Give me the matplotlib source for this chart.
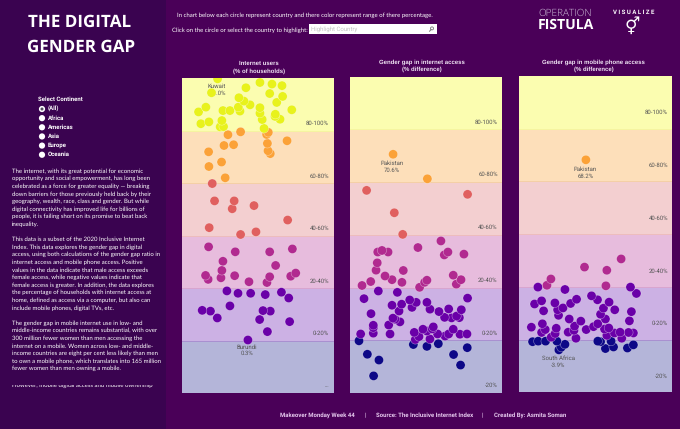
import numpy as np
import matplotlib
matplotlib.use("Agg")
import matplotlib.pyplot as plt
from matplotlib.patches import Rectangle, Circle

# ---------- data: horizontal jitter position (0-100) and percentage ----------
users_x = [23.7,51.5,42.3,59.4,66,57.9,66.4,37.7,41,45,37.3,62.5,51.5,38.4,31.8,27.2,16,11.2,72.4,51.5,61.6,61.4,64.7,53,26.5,18,12.7,25.4,27.6,54.2,19.7,
           57,30.5,38.8,55.9,56.4,69.3,27.9,34.2,56.8,58.3,17.8,26.3,18,28.7,
           20.2,21.7,34.6,33.3,47.6,69.7,18.2,38.8,48.9,
           17.8,35.3,57.9,72.8,27.2,61.8,26.5,15.8,17.5,25.9,34.9,44.3,57.9,56.1,71.7,75,
           29.8,37.1,45.4,55,65.6,70.4,31.8,13.6,19,53.5,58.3,23.5,51.3,71,56.4,43.6]
users_v = [99.8,98.4,96.4,97.8,97.2,94.2,93.1,92.6,91.3,89.9,89,90.8,88.8,87.5,87.7,87.7,89,87.2,88,86.7,86.3,85.5,84.4,84.3,83.9,83.4,82.7,81.5,81.6,80.9,94.5,
           79.4,78.5,79.6,78.6,75.2,76.2,74.4,74.7,72.4,71.3,72,68.1,66.4,62.1,
           59.9,53.3,53.3,50.3,51.5,46,43.1,40.5,41.5,
           35.8,33.9,33.9,35,30.3,28.7,26.8,24.9,23.4,24,24.8,22.5,24.4,22.2,24.6,25.8,
           19,18.1,18.1,17.6,18.5,16.3,13.3,11.6,11.3,11.5,11.3,8.7,8.1,7.3,3.5,0.3]

internet_x = [28.3,50.8,10.9,77.2,29.1,34.6,
              59.7,44.6,18.2,21,25,64.3,61.9,74.8,17.9,17.1,35,23,27.6,13.6,7.9,34.1,50.5,49,45.7,67.8,72.9,69.8,
              18.6,31.1,9.2,77.2,39.2,43.5,33.9,27.6,40.7,50.5,52.5,58.4,64.8,73.1,32.2,13.8,62.1,66.7,71.8,70,28.2,29.5,32.8,25.4,15.3,15.3,15.3,7,26.3,42.2,47.9,54.7,54,50.5,45.3,42.9,52.5,57.5,64.8,67.8,72.2,76.8,62.4,
              5.9,41.6,50.5,58,77,11.4,19,68,72.6,15.5]
internet_v = [70.6,61.3,56.9,55.4,48.4,40.2,
              37.7,35.2,33.5,34.1,33.5,33.5,32.4,32.7,29.4,26.6,26.5,24.4,23,22.3,20.8,22,22.8,22,20.1,24.7,23,21.3,
              18.7,18.2,15.8,16,15.3,14.4,13.7,13.3,12.5,14.4,11.8,10.9,11.9,11.6,11.1,10.1,8.7,8.5,8.6,9.2,8.4,8,7,5.8,5.7,4.8,2.7,2.4,2.4,3,4.2,5.1,4.3,3.5,1.4,0.3,0.5,2.4,2.4,4.2,2.3,2.4,1.6,
              -0.2,-1.6,-2.3,-1.3,-2.8,-5.3,-7.5,-5.4,-9.4,-13.5]

mobile_x = [43.8,
            66.9,42.9,57.5,20.9,18.3,56.9,
            12.4,30.1,73,76.9,47.5,51.4,59,55.3,62.7,73.6,37.7,33.8,28.8,25.3,25.9,23.5,14.8,10.2,16.1,53.4,56.6,72.3,32.9,40.5,36.4,15.3,8.1,17.2,14.8,24.4,23.7,21.1,32.2,36,37.3,44,48.8,51.6,56,58.8,57.5,62.5,66.2,67.3,71.7,74.9,
            8.9,12.6,17.4,24.8,30.1,27.7,26.1,51.6,53.4,60.3,56.6,61.9,71,74.9]
mobile_v = [68.2,
            30.6,27.5,26.3,23,20.6,20.4,
            19.9,19,19.9,17.5,16.6,15.1,14.2,11.9,11.3,10.6,15.3,13.7,12,11.3,9.2,13.9,14.7,13.5,10.9,9.6,7.8,7.1,7.8,7,5.1,6,4.7,3.8,2.7,4.3,2.3,0.9,2.8,3.5,0.5,3.8,4.9,6,4,4.4,1.6,2.5,2.8,0.5,2.7,2.5,
            -0.8,-0.6,-0.6,-0.6,-1.8,-2.9,-3.9,-0.6,-0.8,-0.6,-3.4,-2.8,-3.2,-2]

panel_titles = ["Internet users\n(% of households)",
                "Gender gap in internet access\n(% difference)",
                "Gender gap in mobile phone access\n(% difference)"]
band_edges = [-20, 0, 20, 40, 60, 80, 100]
band_labels_p1 = ["...", "0-20%", "20-40%", "40-60%", "60-80%", "80-100%"]
band_labels = ["-20%", "0-20%", "20-40%", "40-60%", "60-80%", "80-100%"]

highlight_names = [["Kuwait", "Burundi"], ["Pakistan"], ["Pakistan", "South Africa"]]
highlight_x = [[19.7, 43.6], [28.3], [43.8, 26.1]]
highlight_v = [[94.5, 0.3], [70.6], [68.2, -3.9]]
highlight_pct = [["100.0%", "0.3%"], ["70.6%"], ["68.2%", "-3.9%"]]

continents = ["(All)", "Africa", "Americas", "Asia", "Europe", "Oceania"]
paragraph_1 = ["The internet, with its great potential for economic",
    "opportunity and social empowerment, has long been",
    "celebrated as a force for greater equality \u2014 breaking",
    "down barriers for those previously held back by their",
    "geography, wealth, race, class and gender. But while",
    "digital connectivity has improved life for billions of",
    "people, it is failing short on its promise to beat back",
    "inequality."]
paragraph_2 = ["This data is a subset of the 2020 Inclusive Internet",
    "Index. This data explores the gender gap in digital",
    "access, using both calculations of the gender gap ratio in",
    "internet access and mobile phone access. Positive",
    "values in the data indicate that male access exceeds",
    "female access, while negative values indicate that",
    "female access is greater. In addition, the data explores",
    "the percentage of households with internet access at",
    "home, defined as access via a computer, but also can",
    "include mobile phones, digital TVs, etc."]
paragraph_3 = ["The gender gap in mobile internet use in low- and",
    "middle-income countries remains substantial, with over",
    "300 million fewer women than men accessing the",
    "internet on a mobile. Women across low- and middle-",
    "income countries are eight per cent less likely than men",
    "to own a mobile phone, which translates into 165 million",
    "fewer women than men owning a mobile."]
cut_line = "However, mobile digital access and mobile ownership"

# ---------- styles ----------
W, H = 680, 429
BG = "#4a0058"
SIDE = "#3a0350"
band_fill = ["#b4b5d9", "#ccb1e4", "#e7bcdd", "#f3cfd0", "#fddfba", "#fbfdb0"]
band_line = ["#9f9fcf", "#a98fd0", "#d9a5cf", "#eebdbd", "#f5d0a5", "#f5f5a0"]
dot_col = ["#0d0887", "#6a00a8", "#b12a90", "#e0605f", "#fba238", "#e8f21c"]
GREY = "#555555"
plt.rcParams["font.family"] = ["Roboto", "DejaVu Sans"]
plt.rcParams["text.hinting"] = "no_hinting"
plt.rcParams["text.hinting_factor"] = 1

fig = plt.figure(figsize=(W / 100, H / 100), dpi=100, facecolor=BG)

page = fig.add_axes([0, 0, 1, 1], zorder=0)
page.set_xlim(0, W)
page.set_ylim(H, 0)
page.axis("off")
page.add_patch(Rectangle((0, 0), 166, H, fc=SIDE, ec="none"))

page.text(79.5, 22, "THE DIGITAL", color="white", fontsize=12.1, fontweight="bold",
          family="Open Sans", ha="center", va="center")
page.text(81, 47, "GENDER GAP", color="white", fontsize=12.1, fontweight="bold",
          family="Open Sans", ha="center", va="center")

page.text(38, 99, "Select Continent", color="white", fontsize=4.2, fontweight="bold", va="center")
for i, c in enumerate(continents):
    y = 109 + i * 9.15
    page.add_patch(Circle((42, y), 3.1, fc="white", ec="none"))
    if i == 0:
        page.add_patch(Circle((42, y), 1.5, fc="#555060", ec="none"))
    page.text(48, y, c, color="white", fontsize=4.2, fontweight="bold", va="center")

LS = 7.62
BODY = 4.32
for start, lines in [(171, paragraph_1), (239.3, paragraph_2), (323, paragraph_3)]:
    for i, line in enumerate(lines):
        page.text(12, start + i * LS, line, color="white", fontsize=BODY, family="Lato", va="center")
t = page.text(12, 385, cut_line, color="white", fontsize=BODY, family="Lato", va="center")
t.set_clip_path(Rectangle((0, 0), W, H - 384.5, transform=None))
t.set_clip_on(True)

page.text(177, 15.7, "In chart below each circle represent country and there color represent range of there percentage.",
          color="white", fontsize=BODY, family="Lato", va="center")
page.text(172, 30.7, "Click on the circle or select the country to highlight:",
          color="white", fontsize=BODY, family="Lato", va="center")
page.add_patch(Rectangle((308.7, 24), 128, 10, fc="white", ec="none"))
page.text(311, 29, "Highlight Country", color="#c4c4c4", fontsize=4.4, va="center")
page.add_patch(Circle((432, 28.4), 1.5, fc="none", ec="#777777", lw=0.6))
page.plot([431, 429.6], [29.6, 31.2], color="#777777", lw=0.7)

page.text(538, 13.6, "OPERATION", color="#cdbdd8", fontsize=7.0, family="Open Sans",
          fontweight="light", va="center")
page.text(537.5, 25.3, "FISTULA", color="white", fontsize=10, family="Open Sans",
          fontweight="bold", va="center")
page.text(633.5, 12.7, "V I S U A L I Z E", color="white", fontsize=4.6, fontweight="bold",
          ha="center", va="center")
page.text(632, 26.5, "\u26a5", color="white", fontsize=12, family="DejaVu Sans", ha="center", va="center")

fc = "#e6c9ee"
FOOT = 4.4
page.text(279.7, 415.3, "Makeover Monday Week 44", color=fc, fontsize=FOOT, fontweight="bold", va="center")
page.text(365, 415.3, "|", color=fc, fontsize=FOOT, fontweight="bold", ha="center", va="center")
page.text(375.7, 415.3, "Source: The Inclusive Internet Index", color=fc, fontsize=FOOT, fontweight="bold", va="center")
page.text(482.7, 415.3, "|", color=fc, fontsize=FOOT, fontweight="bold", ha="center", va="center")
page.text(493.7, 415.3, "Created By: Asmita Soman", color=fc, fontsize=FOOT, fontweight="bold", va="center")

# ---------- panels ----------
rects = [(181.5, 78.3, 333.8, 393.3), (350, 76.8, 502.3, 393.0), (519, 76.0, 671.7, 392.3)]
series = [(users_x, users_v), (internet_x, internet_v), (mobile_x, mobile_v)]
title_pos = [(259, 63.3, 71), (421.7, 62, 69.5), (593.7, 62, 69.5)]
label_right = [329, 497.7, 668]
label_gap = [7.5, 7.5, 16]
offsets = [[(5, -6, 1), (-1, 7, 13.7)], [(-1, 9, 15.8)], [(-0.7, 9, 16), (-0.5, 8.3, 15.3)]]

for k, (x0, y0, x1, y1) in enumerate(rects):
    ax = fig.add_axes([x0 / W, 1 - y1 / H, (x1 - x0) / W, (y1 - y0) / H], zorder=2)
    ax.set_xlim(0, 100)
    ax.set_ylim(-20, 100)
    ax.axis("off")
    for b in range(6):
        ax.axhspan(band_edges[b], band_edges[b + 1], fc=band_fill[b], ec="none", zorder=0)
        if b:
            ax.axhline(band_edges[b], color=band_line[b], lw=0.7, zorder=1)
        labs = band_labels_p1 if k == 0 else band_labels
        px = label_right[k]
        ax.annotate(labs[b], xy=((px - x0) / (x1 - x0), band_edges[b]),
                    xycoords=("axes fraction", "data"), xytext=(0, label_gap[k]),
                    textcoords="offset pixels", ha="right", va="center",
                    fontsize=4.4, color=GREY, zorder=2)
    xs = np.array(series[k][0], float)
    vs = np.array(series[k][1], float)
    order = np.argsort(vs)
    idx = np.clip(np.digitize(vs[order], band_edges) - 1, 0, 5)
    for name, hx, hv, pct, (dx, dy1, dy2) in zip(highlight_names[k], highlight_x[k], highlight_v[k],
                                                  highlight_pct[k], offsets[k]):
        ax.annotate(name, xy=(hx, hv), xytext=(dx, -dy1), textcoords="offset pixels",
                    ha="center", va="center", fontsize=4.4, color=GREY, zorder=3)
        ax.annotate(pct, xy=(hx, hv), xytext=(dx, -dy2), textcoords="offset pixels",
                    ha="center", va="center", fontsize=4.4, color=GREY, zorder=3)
    ax.scatter(xs[order], vs[order], s=44, c=[dot_col[i] for i in idx],
               edgecolors=(1, 1, 1, 0.55), linewidths=0.35, zorder=4)
    tx, ty1, ty2 = title_pos[k]
    l1, l2 = panel_titles[k].split("\n")
    page.text(tx, ty1, l1, color="#f0e4f4", fontsize=4.2, family="Liberation Sans", fontweight="bold", ha="center", va="center")
    page.text(tx, ty2, l2, color="#f0e4f4", fontsize=4.2, family="Liberation Sans", fontweight="bold", ha="center", va="center")

fig.savefig("out.png", dpi=100, facecolor=BG)
